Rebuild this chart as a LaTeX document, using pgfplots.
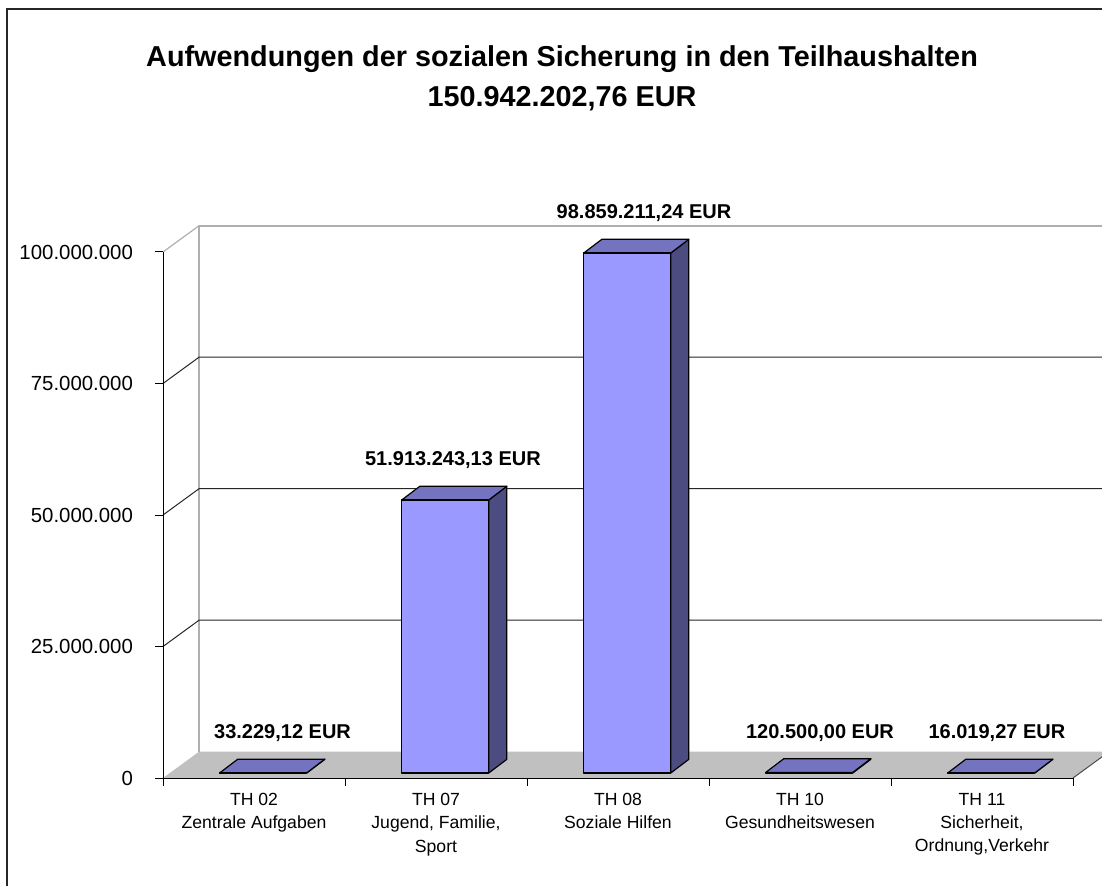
\documentclass[border=0pt]{standalone}
\usepackage{pgfplots}
\usepackage{pgfplotstable}
\pgfplotsset{compat=1.18}
\usepackage{fontspec}
\setmainfont{Liberation Sans}
\definecolor{barfront}{RGB}{153,153,255}
\definecolor{bartop}{RGB}{115,115,191}
\definecolor{barside}{RGB}{76,76,128}
\definecolor{floorgray}{RGB}{192,192,192}
\definecolor{wallgray}{RGB}{175,175,175}

% values in millions EUR, x position of the value label, label text
\pgfplotstableread[col sep=semicolon]{
cat;v;lx;lab
0;0.03322912;0.657;33.229,12 EUR
1;51.91324313;1.593;51.913.243,13 EUR
2;98.85921124;2.643;98.859.211,24 EUR
3;0.1205;3.610;120.500,00 EUR
4;0.01601927;4.582;16.019,27 EUR
}\bars

\begin{document}
\begin{tikzpicture}
\useasboundingbox (0,0) rectangle (551pt,442.5pt);
\clip (0,0) rectangle (551pt,442.5pt);
\draw[line width=1pt, black!85] (3.5pt,-5pt) -- (3.5pt,438pt) -- (560pt,438pt);
\node[font=\bfseries\fontsize{14.4}{17}\selectfont] at (281pt,413pt) {Aufwendungen der sozialen Sicherung in den Teilhaushalten};
\node[font=\bfseries\fontsize{14.4}{17}\selectfont] at (281pt,393pt) {150.942.202,76 EUR};
\begin{axis}[
  at={(81.5pt,53.5pt)}, anchor=south west,
  x=91pt, y=2.63pt,
  xmin=0, xmax=5, ymin=0, ymax=100,
  clip=false, axis on top,
  axis x line*=bottom, axis y line*=left,
  axis line style={black, line width=0.5pt, -},
  tick align=outside, major tick length=4pt,
  tick style={black, line width=0.5pt},
  xtick={0,1,2,3,4,5}, x tick label as interval,
  xticklabels={{TH 02\\Zentrale Aufgaben},{TH 07\\Jugend, Familie,\\Sport},{TH 08\\Soziale Hilfen},{TH 10\\Gesundheitswesen},{TH 11\\Sicherheit,\\Ordnung,Verkehr}},
  xticklabel style={font=\fontsize{8.8}{11.7}\selectfont, align=center, anchor=north},
  ytick={0,25,50,75,100},
  yticklabels={0,25.000.000,50.000.000,75.000.000,100.000.000},
  yticklabel style={font=\fontsize{10.2}{12}\selectfont, xshift=-7.5pt},
  no markers,
]
% floor
\addplot[fill=floorgray, draw=none] coordinates {(0,0) (5,0) (5.198,5) (0.198,5)} -- cycle;
\addplot[black!70, line width=0.5pt] coordinates {(5,0) (5.198,5)};
% back wall and gridlines
\addplot[wallgray, line width=1pt] coordinates {(0.198,5) (0.198,105) (5.4,105)};
\addplot[wallgray, line width=0.6pt] coordinates {(0,100) (0.198,105)};
\addplot[black!85, line width=0.5pt] coordinates {(0,25) (0.198,30) (5.4,30)};
\addplot[black!85, line width=0.5pt] coordinates {(0,50) (0.198,55) (5.4,55)};
\addplot[black!85, line width=0.5pt] coordinates {(0,75) (0.198,80) (5.4,80)};
% bars
\pgfplotsinvokeforeach{0,...,4}{
  \pgfplotstablegetelem{#1}{v}\of\bars \let\val\pgfplotsretval
  \pgfplotstablegetelem{#1}{lx}\of\bars \let\lx\pgfplotsretval
  \pgfplotstablegetelem{#1}{lab}\of\bars \let\lab\pgfplotsretval
  \pgfmathsetmacro\xl{#1+0.312}
  \pgfmathsetmacro\xr{#1+0.790}
  \pgfmathsetmacro\xlb{#1+0.312+0.099}
  \pgfmathsetmacro\xrb{#1+0.790+0.099}
  \pgfmathsetmacro\yf{\val+0.95}
  \pgfmathsetmacro\yb{\val+0.95+2.6}
  \pgfmathsetmacro\ly{\val+8.5}
  \edef\doit{
    \noexpand\addplot[fill=barside, draw=black, line width=0.6pt, line join=round] coordinates {(\xr,0.95) (\xrb,3.55) (\xrb,\yb) (\xr,\yf)} -- cycle;
    \noexpand\addplot[fill=bartop, draw=black, line width=0.6pt, line join=round] coordinates {(\xl,\yf) (\xr,\yf) (\xrb,\yb) (\xlb,\yb)} -- cycle;
    \noexpand\addplot[fill=barfront, draw=black, line width=0.6pt, line join=round] coordinates {(\xl,0.95) (\xr,0.95) (\xr,\yf) (\xl,\yf)} -- cycle;
    \noexpand\node[font=\noexpand\bfseries\noexpand\fontsize{10}{12}\noexpand\selectfont] at (axis cs:\lx,\ly) {\lab};
  }
  \doit
}
\end{axis}
\end{tikzpicture}
\end{document}
